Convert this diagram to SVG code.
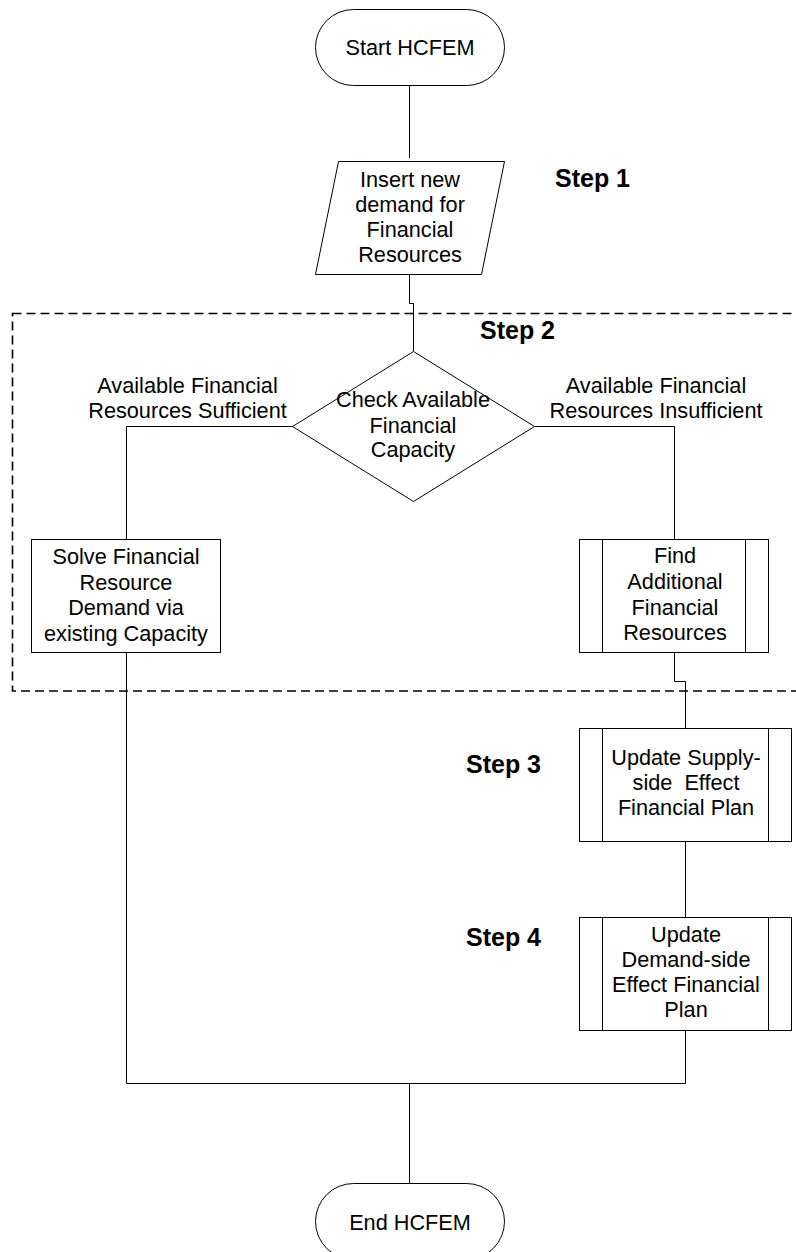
<svg xmlns="http://www.w3.org/2000/svg" width="796" height="1252" viewBox="0 0 796 1252">
<style>
  .shape { fill: #ffffff; stroke: #000000; stroke-width: 1; }
  .conn { fill: none; stroke: #000000; stroke-width: 1; }
  .dash { fill: none; stroke: #000000; stroke-width: 1.6; stroke-dasharray: 9 5; }
  .t { font-family: "Liberation Sans", Arial, sans-serif; font-size: 21.7px; fill: #000000; text-anchor: middle; }
  .step { font-family: "Liberation Sans", Arial, sans-serif; font-size: 25px; font-weight: bold; fill: #000000; }
</style>
<rect width="796" height="1252" fill="#ffffff"/>

<g id="step2-frame">
  <rect class="dash" x="12.5" y="313.5" width="800" height="377.5"/>
</g>

<g id="connectors">
  <path class="conn" d="M409.5 85 V158"/>
  <path class="conn" d="M409.5 274 V303.5 H413.5 V351"/>
  <path class="conn" d="M293 426.5 H126.5 V539"/>
  <path class="conn" d="M534 426.5 H674.5 V539"/>
  <path class="conn" d="M674.5 653 V681.5 H685.5 V728"/>
  <path class="conn" d="M685.5 841 V918"/>
  <path class="conn" d="M126.5 653 V1083.5 H685.5 V1031"/>
  <path class="conn" d="M409.5 1083.5 V1183"/>
</g>

<g id="start">
  <rect class="shape" x="315.5" y="9.5" width="189" height="76" rx="38" ry="38"/>
  <text class="t" x="410" y="55">Start HCFEM</text>
</g>

<g id="insert">
  <polygon class="shape" points="338.5,161.5 504.5,161.5 481.5,274.5 315.5,274.5"/>
  <text class="t" x="410" y="187">Insert new</text>
  <text class="t" x="410" y="212">demand for</text>
  <text class="t" x="410" y="237">Financial</text>
  <text class="t" x="410" y="262">Resources</text>
</g>

<g id="step1-label"><text class="step" x="555" y="187">Step 1</text></g>
<g id="step2-label"><text class="step" x="480" y="339">Step 2</text></g>
<g id="step3-label"><text class="step" x="466" y="773">Step 3</text></g>
<g id="step4-label"><text class="step" x="466" y="946">Step 4</text></g>

<g id="check">
  <polygon class="shape" points="413.5,351.5 534.5,426.5 413.5,501.5 292.5,426.5"/>
  <text class="t" x="413" y="407">Check Available</text>
  <text class="t" x="413" y="433">Financial</text>
  <text class="t" x="413" y="457">Capacity</text>
</g>

<g id="label-sufficient">
  <text class="t" x="187.5" y="393">Available Financial</text>
  <text class="t" x="187.5" y="418">Resources Sufficient</text>
</g>
<g id="label-insufficient">
  <text class="t" x="656" y="393">Available Financial</text>
  <text class="t" x="656" y="418">Resources Insufficient</text>
</g>

<g id="solve">
  <rect class="shape" x="31.5" y="539.5" width="189" height="113"/>
  <text class="t" x="126" y="564">Solve Financial</text>
  <text class="t" x="126" y="590">Resource</text>
  <text class="t" x="126" y="615">Demand via</text>
  <text class="t" x="126" y="641">existing Capacity</text>
</g>

<g id="find">
  <rect class="shape" x="579.5" y="539.5" width="189" height="113"/>
  <line class="conn" x1="602.5" y1="539.5" x2="602.5" y2="652.5"/>
  <line class="conn" x1="745.5" y1="539.5" x2="745.5" y2="652.5"/>
  <text class="t" x="675" y="563">Find</text>
  <text class="t" x="675" y="589">Additional</text>
  <text class="t" x="675" y="615">Financial</text>
  <text class="t" x="675" y="640">Resources</text>
</g>

<g id="supply">
  <rect class="shape" x="579.5" y="728.5" width="212" height="113"/>
  <line class="conn" x1="602.5" y1="728.5" x2="602.5" y2="841.5"/>
  <line class="conn" x1="768.5" y1="728.5" x2="768.5" y2="841.5"/>
  <text class="t" x="686" y="765">Update Supply-</text>
  <text class="t" x="686" y="790" xml:space="preserve">side  Effect</text>
  <text class="t" x="686" y="815">Financial Plan</text>
</g>

<g id="demand">
  <rect class="shape" x="579.5" y="917.5" width="212" height="113"/>
  <line class="conn" x1="602.5" y1="917.5" x2="602.5" y2="1030.5"/>
  <line class="conn" x1="768.5" y1="917.5" x2="768.5" y2="1030.5"/>
  <text class="t" x="686" y="942">Update</text>
  <text class="t" x="686" y="967">Demand-side</text>
  <text class="t" x="686" y="992">Effect Financial</text>
  <text class="t" x="686" y="1017">Plan</text>
</g>

<g id="end">
  <rect class="shape" x="315.5" y="1183.5" width="189" height="76" rx="38" ry="38"/>
  <text class="t" x="410" y="1230">End HCFEM</text>
</g>
</svg>
